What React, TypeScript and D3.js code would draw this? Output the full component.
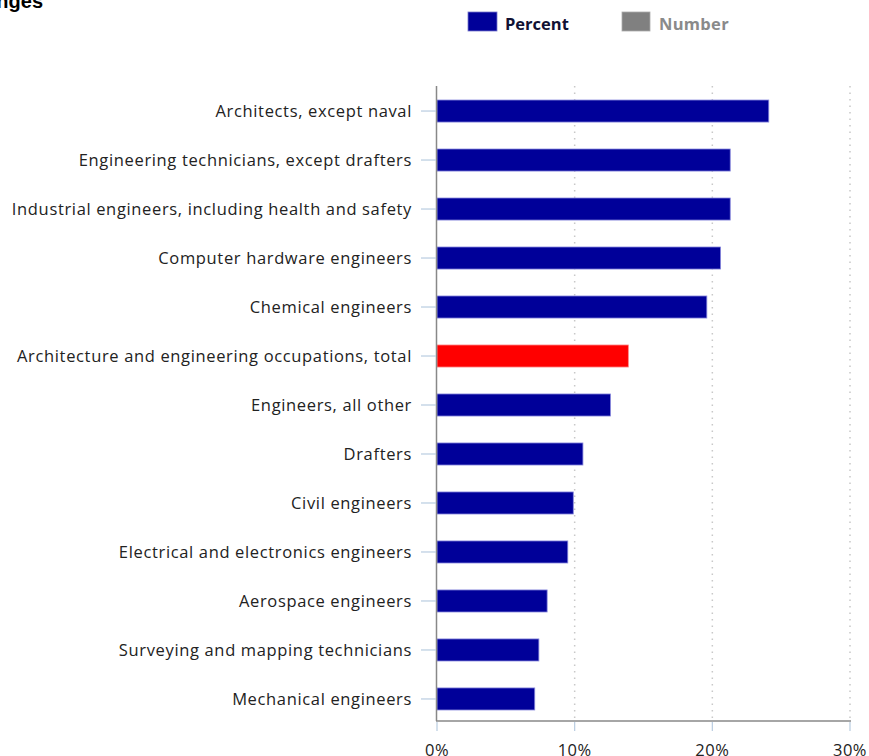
import React from 'react';
import * as d3 from 'd3';

const categories = [
    'Architects, except naval',
    'Engineering technicians, except drafters',
    'Industrial engineers, including health and safety',
    'Computer hardware engineers',
    'Chemical engineers',
    'Architecture and engineering occupations, total',
    'Engineers, all other',
    'Drafters',
    'Civil engineers',
    'Electrical and electronics engineers',
    'Aerospace engineers',
    'Surveying and mapping technicians',
    'Mechanical engineers',
];
const percents = [24.1, 21.3, 21.3, 20.6, 19.6, 13.9, 12.6, 10.6, 9.9, 9.5, 8.0, 7.4, 7.1];
const highlight = 'Architecture and engineering occupations, total';
const xTicks = [0, 10, 20, 30];

const W = 869;
const H = 756;
const left = 437;
const right = 850;
const top = 86;
const bottom = 721;

export default function App() {
    const x = d3.scaleLinear().domain([0, 30]).range([left, right]);
    // band range runs a bit past the axis line, matching the original spacing
    const y = d3.scaleBand().domain(categories).range([top, 724]).paddingInner(0.55).paddingOuter(0.286);
    const font = '"Open Sans", sans-serif';

    return (
        <svg width={W} height={H} style={{ position: 'absolute', left: 0, top: 0 }} fontFamily={font}>
            {/* clipped title */}
            <text x={43} y={8} textAnchor="end" fontFamily="Arial, sans-serif" fontWeight="bold" fontSize={20} fill="#000">
                Projected changes
            </text>

            {/* legend */}
            <rect x={468} y={12} width={29} height={19} fill="#000099" stroke="#7777cc" strokeWidth={0.8} />
            <text x={505} y={30} fontSize={16.5} fontWeight="bold" fill="#111133">Percent</text>
            <rect x={622} y={12} width={28} height={19} fill="#808080" stroke="#aaa" strokeWidth={0.8} />
            <text x={659} y={30} fontSize={16.5} fontWeight="bold" letterSpacing={0.3} fill="#8a8a8a">Number</text>

            {/* grid */}
            {xTicks.filter(t => t > 0).map(t => (
                <line key={t} x1={x(t)} x2={x(t)} y1={top} y2={bottom} stroke="#c8c8c8" strokeWidth={1.5} strokeDasharray="1.5,5" />
            ))}

            {/* bars */}
            {categories.map((c, i) => (
                <rect
                    key={c}
                    x={x(0)}
                    y={y(c)!}
                    width={x(percents[i]) - x(0)}
                    height={y.bandwidth()}
                    fill={c === highlight ? '#ff0000' : '#000099'}
                    stroke={c === highlight ? '#ff8888' : '#8888dd'}
                    strokeWidth={0.8}
                />
            ))}

            {/* y axis */}
            <line x1={left - 0.5} x2={left - 0.5} y1={top} y2={bottom} stroke="#888" strokeWidth={1.5} />
            {categories.map(c => {
                const cy = y(c)! + y.bandwidth() / 2;
                return (
                    <g key={c}>
                        <line x1={421} x2={left - 1} y1={cy} y2={cy} stroke="#b8cce0" strokeWidth={1.2} />
                        <text x={412} y={cy} dy="0.35em" textAnchor="end" fontSize={16.5} letterSpacing={0.65} fill="#222">{c}</text>
                    </g>
                );
            })}

            {/* x axis */}
            <line x1={left - 1} x2={right + 1} y1={bottom} y2={bottom} stroke="#888" strokeWidth={1.5} />
            {xTicks.map(t => (
                <g key={t}>
                    <line x1={x(t)} x2={x(t)} y1={bottom + 1} y2={bottom + 10} stroke="#b8cce0" strokeWidth={1.2} />
                    <text x={x(t)} y={756} textAnchor="middle" fontSize={16.5} letterSpacing={0.5} fill="#222">{t}%</text>
                </g>
            ))}
        </svg>
    );
}
